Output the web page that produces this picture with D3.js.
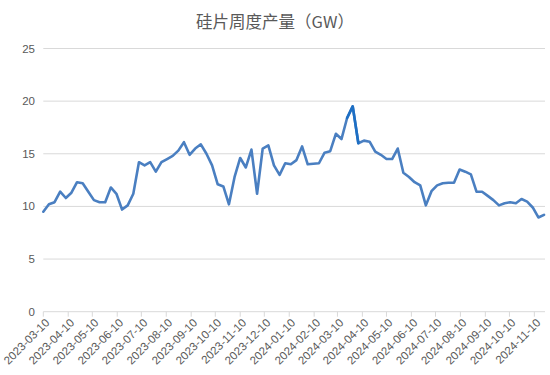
<!DOCTYPE html>
<html><head><meta charset="utf-8">
<script src="https://cdn.jsdelivr.net/npm/d3@7"></script>
<style>body{margin:0;background:#fff;}svg{display:block;}</style>
</head><body><svg id="c" width="550" height="375"></svg>
<script>
const title = "硅片周度产量（GW）";
const startDate = "2023-03-10";
const values = [9.5,10.2,10.4,11.4,10.8,11.3,12.3,12.2,11.4,10.6,10.4,10.4,11.8,11.2,9.7,10.1,11.2,14.2,13.9,14.2,
13.3,14.2,14.5,14.8,15.3,16.1,14.9,15.5,15.9,15.0,13.9,12.1,11.9,10.2,12.8,14.6,13.7,15.4,11.2,15.5,
15.8,13.9,13.0,14.1,14.0,14.4,15.7,14.0,14.05,14.1,15.1,15.25,16.9,16.4,18.4,19.5,16.0,16.25,16.15,15.2,
14.9,14.5,14.5,15.5,13.2,12.8,12.3,12.0,10.1,11.45,12.0,12.2,12.25,12.25,13.5,13.3,13.05,11.4,11.4,11.0,
10.6,10.1,10.3,10.4,10.3,10.7,10.45,9.9,8.95,9.2];
const highlightIdx = [54,55,56];
const tickLabels = ["2023-03-10","2023-04-10","2023-05-10","2023-06-10","2023-07-10","2023-08-10","2023-09-10",
"2023-10-10","2023-11-10","2023-12-10","2024-01-10","2024-02-10","2024-03-10","2024-04-10","2024-05-10",
"2024-06-10","2024-07-10","2024-08-10","2024-09-10","2024-10-10","2024-11-10"];
const yTicks = [0,5,10,15,20,25];

const parse = d3.utcParse("%Y-%m-%d");
const d0 = parse(startDate);
const data = values.map((v,i)=>({date: d3.utcDay.offset(d0, 7*i), v}));

const svg = d3.select("#c");
const x = d3.scaleUtc().domain([d0, data[data.length-1].date]).range([43.3, 544]);
const y = d3.scaleLinear().domain([0,25]).range([311.7, 48.5]);
const xLeft = 43.3, xRight = 545;

svg.append("text").attr("x",275).attr("y",28).attr("text-anchor","middle")
  .attr("font-family","'Noto Sans CJK SC', sans-serif").attr("font-size",16.5).attr("fill","#595959").text(title);

// gridlines
svg.append("g").selectAll("line").data(yTicks.filter(t=>t>0)).join("line")
  .attr("x1",xLeft).attr("x2",xRight).attr("y1",d=>y(d)).attr("y2",d=>y(d))
  .attr("stroke","#d9d9d9").attr("stroke-width",1);
// y labels
svg.append("g").selectAll("text").data(yTicks).join("text")
  .attr("x",35).attr("y",d=>y(d)+4).attr("text-anchor","end")
  .attr("font-family","'Liberation Sans', Arial, sans-serif").attr("font-size",11.5).attr("fill","#595959").text(d=>d);

// x axis
svg.append("line").attr("x1",xLeft).attr("x2",xRight).attr("y1",y(0)).attr("y2",y(0)).attr("stroke","#d9d9d9").attr("stroke-width",1);
const tickDates = tickLabels.map(parse);
svg.append("g").selectAll("line").data(tickDates).join("line")
  .attr("x1",d=>x(d)).attr("x2",d=>x(d)).attr("y1",y(0)).attr("y2",y(0)+5).attr("stroke","#d9d9d9");
svg.append("g").selectAll("text").data(tickLabels).join("text")
  .attr("transform",d=>`translate(${x(parse(d))+4},${y(0)+9}) rotate(-45)`)
  .attr("text-anchor","end").attr("dy","0.35em")
  .attr("font-family","'Liberation Sans', Arial, sans-serif").attr("font-size",11.5).attr("fill","#595959").text(d=>d);

const line = d3.line().x(d=>x(d.date)).y(d=>y(d.v));
svg.append("path").datum(data).attr("d",line).attr("fill","none")
  .attr("stroke","#4a7fc1").attr("stroke-width",2.6).attr("stroke-linejoin","round").attr("stroke-linecap","round");
svg.append("path").datum(highlightIdx.map(i=>data[i])).attr("d",line).attr("fill","none")
  .attr("stroke","#1d6fc4").attr("stroke-width",2.6).attr("stroke-linejoin","round").attr("stroke-linecap","round");
</script></body></html>
